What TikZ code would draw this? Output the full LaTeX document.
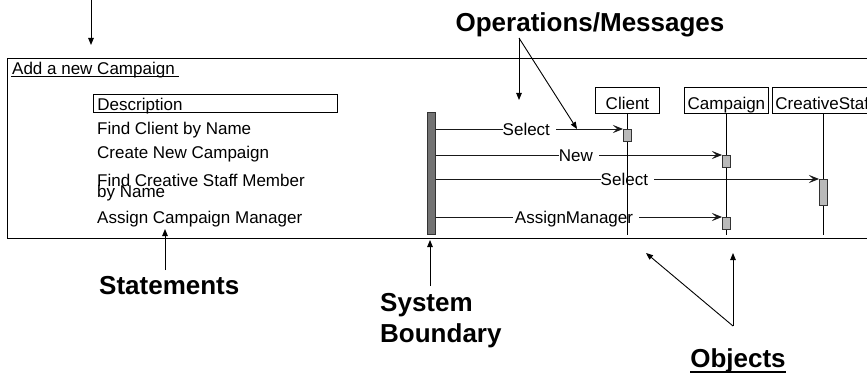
\documentclass[tikz,border=0pt]{standalone}
\usepackage{fontspec}
\setmainfont{Liberation Sans}
\usetikzlibrary{arrows.meta}
\begin{document}
\begin{tikzpicture}[x=1pt,y=-1pt,
  txt/.style={font=\fontsize{17}{19}\selectfont, inner sep=0pt},
  bold/.style={font=\fontsize{26}{30}\selectfont\bfseries, inner sep=0pt},
  msg/.style={draw=black!90, line width=0.9pt, -{Stealth[length=10pt,width=8pt,inset=4pt]}},
  msglabel/.style={txt, fill=white, inner sep=0pt, text height=12.2pt, text depth=0pt},
  note/.style={draw=black, line width=0.9pt, -{Triangle[length=7pt,width=5.5pt]}},
  act/.style={draw=black!80, fill=black!27, line width=0.7pt, minimum width=8pt, inner sep=0pt, anchor=north west},
  objbox/.style={txt, draw=black, line width=0.9pt, fill=white, minimum height=26pt, inner sep=0pt,
                 text height=21pt, text depth=2pt, anchor=north west},
  lifeline/.style={draw=black, line width=0.7pt},
]
\clip (0,0) rectangle (867,374);

% use case frame with its title
\draw[line width=1pt] (7,59) rectangle (900,238);
\node[txt, anchor=base west] (title) at (12,75) {Add a new Campaign};
\draw[line width=0.8pt] ([xshift=-1pt,yshift=-1.5pt]title.base west) -- ([xshift=4pt,yshift=-1.5pt]title.base east);

% statements of the script
\node[txt, draw, line width=0.9pt, anchor=north west, minimum width=244pt, minimum height=18pt,
      text width=236pt, inner xsep=4pt, inner ysep=0pt, text height=15pt, text depth=1pt,
      align=left] (desc) at (93,94) {Description};
\node[txt, anchor=base west] (s1) at (97,135) {Find Client by Name};
\node[txt, anchor=base west] (s2) at (97,159) {Create New Campaign};
\node[txt, anchor=base west] (s3) at (97,186) {Find Creative Staff Member};
\node[txt, anchor=base west] (s3b) at (97,197) {by Name};
\node[txt, anchor=base west] (s4) at (97,223) {Assign Campaign Manager};

% system boundary bar
\node[draw=black!80, fill=black!55, line width=0.7pt, minimum width=8pt, minimum height=122pt,
      inner sep=0pt, anchor=north west] (bar) at (427,112) {};

% objects
\node[objbox, minimum width=64pt] (client) at (595,87) {Client};
\node[objbox, minimum width=84pt] (campaign) at (684,87) {Campaign};
\node[objbox, minimum width=110pt, text width=104pt, inner xsep=3pt, align=left] (staff) at (772,87) {CreativeStaff};

% activations (placed first so the messages can refer to them)
\path
  (623,129) node[act, minimum height=12pt] (cact) {}
  (722,155) node[act, minimum height=12pt] (pact1) {}
  (819,179) node[act, minimum height=26pt] (sact) {}
  (722,217) node[act, minimum height=12pt] (pact2) {};

% messages
\draw[msg] (bar.east |- cact.north west) -- node[msglabel] (m1) {Select\kern6pt} (cact.north west);
\draw[msg] (bar.east |- pact1.north west) -- node[msglabel] (m2) {New\kern6pt} (pact1.north west);
\draw[msg] (bar.east |- sact.north west) -- node[msglabel] (m3) {Select\kern6pt} (sact.north west);
\draw[msg] (bar.east |- pact2.north west) -- node[msglabel, pos=0.49] (m4) {\kern2pt AssignManager\kern6pt} (pact2.north west);

% lifelines
\draw[lifeline] (cact.north |- client.south) -- (cact.north |- bar.south);
\draw[lifeline] (pact1.north |- campaign.south) -- (pact1.north |- bar.south);
\draw[lifeline] (sact.north |- staff.south) -- (sact.north |- bar.south);

% activations drawn again on top of the lifelines
\path
  (623,129) node[act, minimum height=12pt] {}
  (722,155) node[act, minimum height=12pt] {}
  (819,179) node[act, minimum height=26pt] {}
  (722,217) node[act, minimum height=12pt] {};

% annotations
\coordinate (topStart) at (91,0);
\coordinate (topEnd) at (91,45);
\draw[note] (topStart) -- (topEnd);

\node[bold, anchor=base] (ops) at (590,32) {Operations/Messages};
\coordinate (opsFork) at (519,38);
\coordinate (opsDown) at (519,100);
\coordinate (opsMsg) at (577,129);
\draw[note] (opsFork) -- (opsDown);
\draw[note] (opsFork) -- (opsMsg);

\node[bold, anchor=base west] (stm) at (99,294) {Statements};
\coordinate (stmFrom) at (165,270);
\coordinate (stmTo) at (165,229);
\draw[note] (stmFrom) -- (stmTo);

\node[bold, anchor=base west] (sys1) at (380,311) {System};
\node[bold, anchor=base west] (sys2) at (380,342) {Boundary};
\coordinate (sysFrom) at (430,286);
\coordinate (sysTo) at (430,240);
\draw[note] (sysFrom) -- (sysTo);

\node[bold, anchor=base] (objs) at (738,367) {Objects};
\draw[line width=2pt] ([yshift=-5pt]objs.base west) -- ([yshift=-5pt]objs.base east);
\coordinate (objFork) at (733,326);
\coordinate (objA) at (646,253);
\coordinate (objB) at (733,253);
\draw[note] (objFork) -- (objA);
\draw[note] (objFork) -- (objB);
\end{tikzpicture}
\end{document}
